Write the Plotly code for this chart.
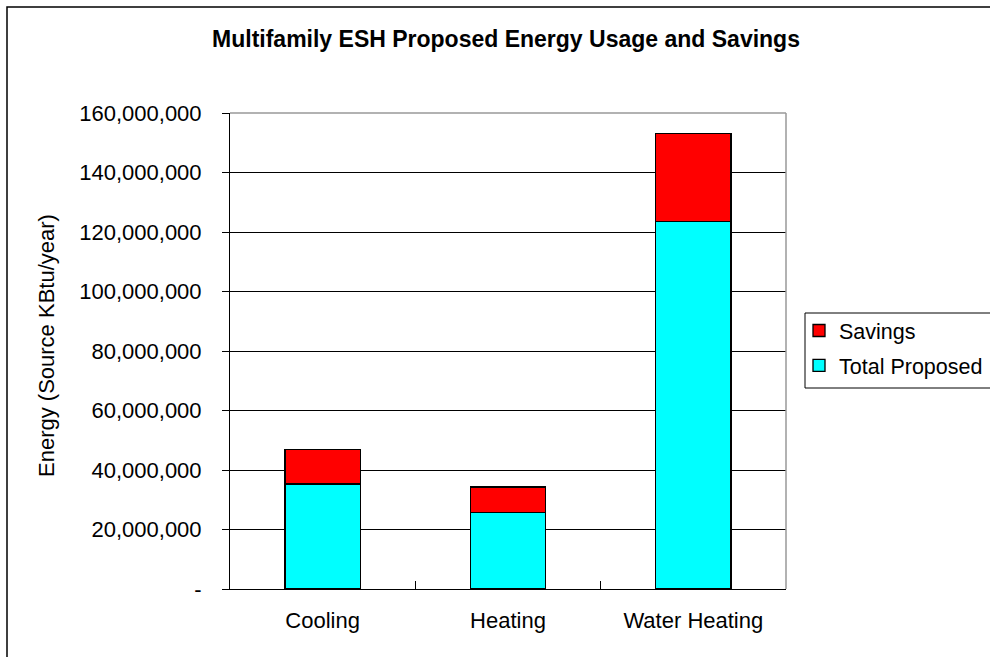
import plotly.graph_objects as go

categories = ["Cooling", "Heating", "Water Heating"]
total_proposed = [35300000, 25700000, 123600000]
savings = [11500000, 8600000, 29400000]
y_tick_values = [0, 20000000, 40000000, 60000000, 80000000, 100000000, 120000000, 140000000, 160000000]
y_tick_labels = ["-", "20,000,000", "40,000,000", "60,000,000", "80,000,000",
                 "100,000,000", "120,000,000", "140,000,000", "160,000,000"]

FONT = "Arial, 'Liberation Sans', sans-serif"
W, H = 990, 657
L, R, T, B = 230, 786, 113, 589  # plot area in pixels

fig = go.Figure()
fig.add_trace(go.Bar(x=categories, y=total_proposed, name="Total Proposed",
                     marker=dict(color="#00FFFF", line=dict(color="#000000", width=1.3)),
                     legendgroup="a", legendrank=2))
fig.add_trace(go.Bar(x=categories, y=savings, name="Savings",
                     marker=dict(color="#FF0000", line=dict(color="#000000", width=1.3)),
                     legendgroup="b", legendrank=1))

def px_x(px):
    return (px - L) / (R - L)

def px_y(py):
    return (B - py) / (B - T)

fig.update_layout(
    width=W, height=H,
    margin=dict(l=L, r=W - R, t=T, b=H - B, autoexpand=False),
    barmode="stack",
    bargap=0.595,
    paper_bgcolor="white",
    plot_bgcolor="white",
    font=dict(family=FONT, size=22, color="#000000"),
    title=dict(text="<b>Multifamily ESH Proposed Energy Usage and Savings</b>",
               x=506 / W, xanchor="center", xref="container",
               y=1 - 39 / H, yanchor="middle", yref="container",
               font=dict(family=FONT, size=23, color="#000000")),
    showlegend=True,
    legend=dict(x=px_x(799), y=px_y(310), xanchor="left", yanchor="top",
                borderwidth=0, bgcolor="rgba(0,0,0,0)",
                traceorder="grouped", tracegroupgap=4,
                font=dict(family=FONT, size=21.5, color="#000000"),
                itemwidth=30),
    xaxis=dict(showline=True, linecolor="#000000", linewidth=1,
               ticks="inside", tickson="boundaries", ticklen=8, tickcolor="#000000",
               showgrid=False, ticklabelstandoff=12, fixedrange=True),
    yaxis=dict(range=[0, 160000000], tickvals=y_tick_values, ticktext=y_tick_labels,
               showline=True, linecolor="#000000", linewidth=1,
               ticks="outside", ticklen=7, tickcolor="#000000",
               showgrid=True, gridcolor="#000000", gridwidth=1,
               zeroline=False, ticklabelstandoff=16, fixedrange=True),
    shapes=[
        dict(type="line", xref="paper", yref="paper", x0=0, x1=1, y0=1, y1=1,
             line=dict(color="#999999", width=1.5), layer="above"),
        dict(type="line", xref="paper", yref="paper", x0=1, x1=1, y0=0, y1=1,
             line=dict(color="#999999", width=1.5), layer="above"),
        dict(type="rect", xref="paper", yref="paper",
             x0=px_x(7), x1=px_x(1005), y0=px_y(7), y1=px_y(680),
             line=dict(color="#000000", width=1.5), layer="below"),
        dict(type="rect", xref="paper", yref="paper",
             x0=px_x(805), x1=px_x(1005), y0=px_y(313), y1=px_y(388),
             line=dict(color="#000000", width=1), layer="below"),
    ],
    annotations=[
        dict(text="Energy (Source KBtu/year)", textangle=-90,
             xref="paper", yref="paper", x=px_x(46), y=px_y(346),
             xanchor="center", yanchor="middle", showarrow=False,
             font=dict(family=FONT, size=22, color="#000000")),
    ],
)

fig.write_html("out.html")
